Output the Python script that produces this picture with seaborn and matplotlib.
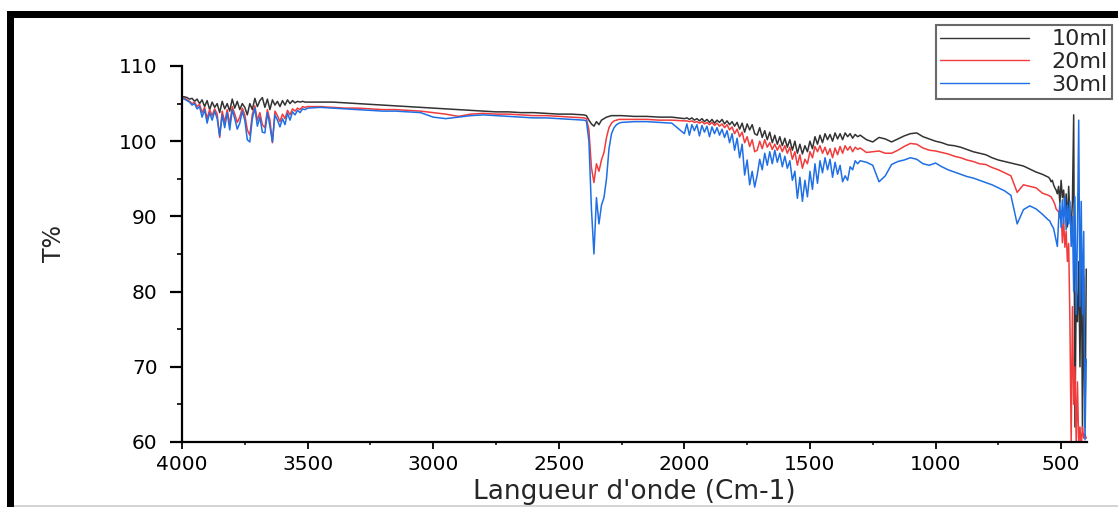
import numpy as np
import pandas as pd
import matplotlib
matplotlib.use("Agg")
import matplotlib.pyplot as plt
import seaborn as sns
from matplotlib.patches import Rectangle
from matplotlib.ticker import MultipleLocator

sns.set_style("ticks")
plt.rcParams["font.family"] = ["DejaVu Sans"]

# Wavenumber sampling (cm-1): finer steps where the bands are sharp
wn_oh = np.arange(4000, 3499, -10)        # O-H / water vapour region
wn_ch = np.arange(3450, 2399, -50)        # smooth plateau
wn_co2 = np.arange(2390, 2249, -10)       # CO2 doublet
wn_mid = np.arange(2200, 2049, -50)       # plateau
wn_fp = np.arange(2000, 1299, -10)        # bending / fingerprint bands
wn_low = np.arange(1275, 549, -25)        # slow decline
wn_edge = np.arange(545, 399, -5)         # detector cut-off region

wavenumber = np.concatenate([wn_oh, wn_ch, wn_co2, wn_mid, wn_fp, wn_low, wn_edge])

# ---- 10 ml -------------------------------------------------------------
t10_oh = [105.9, 105.9, 105.8, 105.6, 105.7, 105.3, 105.6, 105.0, 105.5, 104.6,
          105.4, 104.2, 105.2, 104.5, 105.0, 103.8, 105.3, 104.3, 105.0, 104.0,
          105.6, 104.4, 105.3, 104.2, 105.0, 104.5, 103.5, 105.0, 104.2, 105.7,
          104.6, 105.4, 105.8, 104.5, 105.6, 104.2, 105.5, 104.8, 105.3, 104.6,
          105.4, 104.8, 105.5, 105.0, 105.4, 105.1, 105.3, 105.2, 105.3, 105.2,
          105.2]
t10_ch = [105.2, 105.2, 105.1, 105.0, 104.9, 104.8, 104.7, 104.6, 104.5, 104.4,
          104.3, 104.2, 104.1, 104.0, 103.9, 103.9, 103.8, 103.8, 103.7, 103.6,
          103.6, 103.5]
t10_co2 = [103.4, 102.8, 102.3, 102.0, 102.6, 102.2, 102.8, 103.0, 103.2, 103.3,
           103.4, 103.4, 103.4, 103.4, 103.4]
t10_mid = [103.3, 103.3, 103.2, 103.2]
t10_fp = [103.0, 103.1, 102.9, 103.1, 102.8, 103.0, 102.7, 103.0, 102.6, 102.9,
          102.5, 102.9, 102.4, 102.8, 102.5, 102.9, 102.3, 102.7, 102.2, 102.6,
          102.0, 102.5, 101.6, 102.4, 101.2, 102.3, 101.5, 102.2, 101.0, 100.8,
          101.8, 100.5, 101.4, 100.2, 101.2, 99.8, 100.8, 99.6, 100.6, 99.4,
          100.4, 99.2, 100.2, 98.8, 100.0, 98.4, 99.6, 98.3, 99.4, 98.6,
          100.0, 99.0, 100.6, 99.6, 100.8, 99.8, 101.0, 100.2, 100.9, 100.0,
          101.1, 100.3, 101.0, 100.2, 101.1, 100.6, 101.0, 100.4, 100.9, 100.6,
          100.8]
t10_low = [100.2, 99.9, 100.5, 100.3, 99.9, 100.3, 100.7, 101.0, 101.1, 100.6,
           100.3, 100.0, 99.8, 99.5, 99.4, 99.2, 98.9, 98.6, 98.4, 98.2,
           97.8, 97.5, 97.3, 97.1, 96.9, 96.7, 96.3, 95.9, 95.6, 95.2]
t10_edge = [95.0, 94.6, 94.8, 94.2, 93.8, 93.5, 93.0, 94.0, 91.8, 94.8,
            92.5, 93.5, 91.0, 93.0, 88.6, 94.0, 90.0, 88.5, 92.0, 103.5,
            62.0, 80.0, 76.0, 84.0, 70.0, 88.0, 61.6, 82.0, 62.0, 83.0]

# ---- 20 ml -------------------------------------------------------------
t20_oh = [105.8, 105.7, 105.5, 105.3, 105.0, 105.2, 104.6, 104.9, 103.8, 104.5,
          103.0, 104.2, 103.4, 104.3, 103.6, 100.5, 104.0, 102.5, 104.2, 102.2,
          104.6, 103.6, 102.5, 103.2, 104.4, 103.5, 101.5, 100.8, 103.6, 104.7,
          102.8, 103.8, 102.2, 101.8, 104.2, 102.8, 99.8, 104.0, 103.4, 102.6,
          103.6, 103.0, 104.1, 103.5, 104.3, 104.0, 104.4, 104.2, 104.6, 104.5,
          104.6]
t20_ch = [104.6, 104.5, 104.4, 104.4, 104.3, 104.2, 104.2, 104.1, 104.0, 103.8,
          103.6, 103.3, 103.6, 103.7, 103.6, 103.6, 103.5, 103.4, 103.4, 103.3,
          103.2, 103.1]
t20_co2 = [103.0, 101.5, 96.5, 94.5, 97.0, 96.0, 97.5, 98.5, 100.5, 101.8,
           102.4, 102.7, 102.8, 102.9, 102.9]
t20_mid = [102.9, 102.9, 102.8, 102.8]
t20_fp = [102.7, 102.7, 102.6, 102.7, 102.5, 102.6, 102.4, 102.6, 102.3, 102.5,
          102.2, 102.5, 102.1, 102.4, 102.0, 102.3, 101.8, 102.2, 101.5, 101.9,
          101.0, 101.6, 100.6, 101.2, 99.8, 100.6, 99.3, 100.2, 98.6, 98.8,
          100.0, 99.0, 100.2, 99.2, 99.8, 98.9, 99.6, 98.8, 99.5, 98.6,
          99.4, 98.4, 99.2, 97.6, 98.6, 96.8, 98.2, 96.4, 97.6, 97.0,
          98.6, 97.8, 99.3, 98.6, 99.4, 98.4, 99.2, 98.2, 99.0, 97.8,
          99.1, 98.2, 99.3, 98.4, 99.4, 98.8, 99.3, 98.6, 99.2, 98.9,
          99.1]
t20_low = [98.5, 98.6, 98.7, 98.4, 98.4, 98.8, 99.3, 99.7, 99.6, 99.1,
           98.8, 98.7, 98.5, 98.3, 98.0, 97.8, 97.5, 97.3, 97.0, 96.9,
           96.5, 96.2, 95.8, 95.4, 93.2, 94.2, 94.0, 93.8, 93.1, 92.8]
t20_edge = [92.7, 92.6, 92.3, 92.0, 91.6, 91.0, 90.8, 90.6, 89.8, 90.8,
            86.5, 89.5, 85.9, 88.0, 84.0, 86.4, 76.0, 60.0, 78.0, 65.0,
            70.0, 60.0, 68.0, 59.5, 62.0, 59.5, 62.0, 60.5, 61.0, 60.5]

# ---- 30 ml -------------------------------------------------------------
t30_oh = [105.7, 105.6, 105.4, 105.2, 104.8, 105.0, 104.3, 104.6, 103.2, 104.2,
          102.4, 103.8, 102.8, 104.0, 103.0, 100.7, 103.5, 101.8, 103.8, 101.5,
          104.2, 103.0, 101.6, 102.4, 104.0, 102.8, 100.2, 99.9, 103.0, 104.4,
          102.0, 103.2, 101.2, 101.1, 103.8, 102.0, 99.9, 103.5, 102.8, 101.9,
          103.0, 102.2, 103.7, 102.8, 103.9, 103.5, 104.1, 103.8, 104.3, 104.2,
          104.4]
t30_ch = [104.5, 104.4, 104.3, 104.2, 104.1, 104.0, 104.0, 103.9, 103.8, 103.2,
          103.0, 103.2, 103.4, 103.5, 103.4, 103.3, 103.2, 103.1, 103.1, 103.0,
          102.9, 102.8]
t30_co2 = [102.7, 100.0, 91.0, 85.0, 92.5, 89.0, 91.5, 92.5, 95.0, 99.0,
           101.0, 101.8, 102.2, 102.4, 102.5]
t30_mid = [102.6, 102.6, 102.5, 102.4]
t30_fp = [101.0, 102.3, 100.8, 102.2, 101.4, 102.2, 100.7, 102.1, 101.2, 102.0,
          100.6, 101.9, 101.0, 101.8, 100.8, 101.6, 100.5, 101.4, 99.8, 101.0,
          98.8, 100.4, 97.8, 99.6, 95.5, 97.5, 94.2, 96.0, 93.9, 95.5,
          97.6, 96.2, 98.4, 96.8, 98.6, 97.0, 98.8, 97.2, 98.4, 96.6,
          98.0, 96.4, 97.4, 94.8, 96.0, 92.4, 95.2, 92.0, 94.8, 92.6,
          96.0, 93.6, 97.0, 94.4, 97.4, 95.8, 97.8, 96.2, 97.6, 95.2,
          97.2, 95.6, 96.8, 94.6, 95.4, 94.8, 96.6, 96.2, 97.4, 97.0,
          97.4]
t30_low = [97.2, 96.8, 94.6, 95.4, 96.9, 97.3, 97.5, 97.8, 97.6, 97.0,
           96.8, 97.1, 96.6, 96.2, 95.9, 95.6, 95.3, 95.1, 94.8, 94.5,
           94.2, 93.8, 93.4, 92.8, 89.0, 90.9, 91.4, 91.0, 90.3, 89.5]
t30_edge = [89.4, 89.0, 88.7, 88.4, 87.6, 86.8, 86.0, 89.5, 91.8, 88.5,
            92.2, 89.0, 92.6, 88.2, 91.5, 89.0, 92.0, 86.0, 90.0, 80.0,
            92.6, 77.0, 88.0, 102.8, 78.0, 92.0, 77.0, 88.0, 60.3, 71.0]

samples = ["10ml", "20ml", "30ml"]
transmittance = {
    "10ml": t10_oh + t10_ch + t10_co2 + t10_mid + t10_fp + t10_low + t10_edge,
    "20ml": t20_oh + t20_ch + t20_co2 + t20_mid + t20_fp + t20_low + t20_edge,
    "30ml": t30_oh + t30_ch + t30_co2 + t30_mid + t30_fp + t30_low + t30_edge,
}
palette = {"10ml": "#333333", "20ml": "#f03c3c", "30ml": "#1f6fe5"}

df = pd.concat(
    [pd.DataFrame({"wn": wavenumber, "T": transmittance[s], "sample": s}) for s in samples],
    ignore_index=True,
)

W, H = 1118, 507
fig = plt.figure(figsize=(W / 100, H / 100), dpi=100)
ax = fig.add_axes([182 / W, 65 / H, 905 / W, 376 / H])

sns.lineplot(data=df, x="wn", y="T", hue="sample", hue_order=samples,
             palette=palette, estimator=None, sort=False, linewidth=1.1, ax=ax)

ax.set_xlim(4000, 397)
ax.set_ylim(60, 110)
ax.xaxis.set_major_locator(MultipleLocator(500))
ax.xaxis.set_minor_locator(MultipleLocator(250))
ax.yaxis.set_major_locator(MultipleLocator(10))
ax.yaxis.set_minor_locator(MultipleLocator(5))

sns.despine(ax=ax)
for side in ("left", "bottom"):
    ax.spines[side].set_linewidth(1.6)
    ax.spines[side].set_color("black")

ax.tick_params(axis="y", which="major", length=8.5, width=1.6, labelsize=14.5, pad=9, colors="black")
ax.tick_params(axis="y", which="minor", length=3.5, width=1.4)
ax.tick_params(axis="x", which="major", length=5, width=1.3, labelsize=14.5, pad=4, colors="black")
ax.tick_params(axis="x", which="minor", length=2.5, width=1.3)

ax.set_xlabel("Langueur d'onde (Cm-1)", fontsize=19)
ax.set_ylabel("T%", fontsize=17)
ax.xaxis.set_label_coords(0.5, -0.098)
ax.yaxis.set_label_coords(-0.128, 0.527)

handles, labels = ax.get_legend_handles_labels()
ax.get_legend().remove()
leg = fig.legend(handles, labels, loc="upper right",
                 bbox_to_anchor=(1112 / W, 1 - 25 / H), bbox_transform=fig.transFigure,
                 frameon=True, fancybox=False, fontsize=16,
                 handlelength=4.0, handletextpad=1.0, labelspacing=0.12,
                 borderpad=0.2, borderaxespad=0.0)
leg.get_frame().set_edgecolor("#444444")
leg.get_frame().set_linewidth(1.5)
for line in leg.get_lines():
    line.set_linewidth(1.0)

# heavy frame around the figure (top and left edges)
fig.add_artist(Rectangle((7 / W, 0), 7 / W, (H - 11) / H, transform=fig.transFigure,
                         facecolor="black", edgecolor="none"))
fig.add_artist(Rectangle((7 / W, (H - 18) / H), (W - 7) / W, 7 / H, transform=fig.transFigure,
                         facecolor="black", edgecolor="none"))
fig.add_artist(Rectangle((14 / W, 0), 1, 2 / H, transform=fig.transFigure,
                         facecolor="#d4d4d4", edgecolor="none"))

fig.savefig("out.png", dpi=100)
